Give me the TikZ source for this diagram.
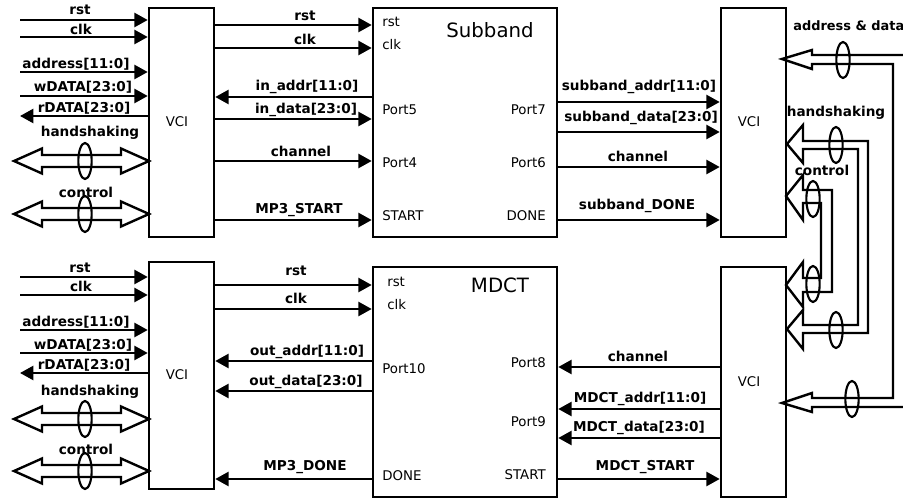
\documentclass[tikz,border=0pt]{standalone}
\usepackage{fontspec}
\setmainfont{DejaVu Sans}
\usepackage{tikz}
\usetikzlibrary{arrows.meta, shapes.geometric}

\begin{document}
\begin{tikzpicture}[
  x=0.75pt, y=-0.75pt,
  box/.style={draw, line width=1.9pt, minimum width=48.75pt, inner sep=0pt},
  arrow/.style={-{Triangle[length=10pt, width=10.5pt]}, line width=1.8pt},
  bus/.style={draw, line width=1.8pt, line join=miter},
  busmark/.style={draw, ellipse, line width=1.6pt, minimum width=10pt, minimum height=27pt, inner sep=0pt},
  lbl/.style={font=\fontsize{10.2}{12}\selectfont\bfseries, inner sep=0pt},
  port/.style={font=\fontsize{10}{12}\selectfont, inner sep=0pt},
  title/.style={font=\fontsize{14.8}{17}\selectfont, inner sep=0pt}
]
  \useasboundingbox (0,0) rectangle (903,499);

  % blocks
  \node[box, minimum height=171.75pt] (vcia) at (181.5,122.5) {};
  \node[box, minimum height=170.25pt] (vcib) at (181.5,375.5) {};
  \node[box, minimum height=171.75pt] (vcic) at (753.5,122.5) {};
  \node[box, minimum height=172.5pt] (vcid) at (753.5,382) {};
  \node[box, minimum width=138pt, minimum height=171.75pt] (subband) at (465,122.5) {};
  \node[box, minimum width=138pt, minimum height=172.5pt] (mdct) at (465,382) {};

  \node[port] (vcialbl) at (177,122) {VCI};
  \node[port] (vciblbl) at (177,375) {VCI};
  \node[port] (vciclbl) at (749,122) {VCI};
  \node[port] (vcidlbl) at (749,382) {VCI};
  \node[title] (sublbl) at (490,30) {Subband};
  \node[title] (mdctlbl) at (500,285) {MDCT};

  % free ends on the left
  \coordinate (ina) at (20,20);
  \coordinate (inb) at (20,37);
  \coordinate (inc) at (20,72);
  \coordinate (ind) at (20,96);
  \coordinate (ine) at (20,116);
  \coordinate (inf) at (20,277);
  \coordinate (ing) at (20,295);
  \coordinate (inh) at (20,330);
  \coordinate (ini) at (20,353);
  \coordinate (inj) at (20,373);

  \draw[arrow] (ina) -- (ina -| vcia.west);
  \draw[arrow] (inb) -- (inb -| vcia.west);
  \draw[arrow] (inc) -- (inc -| vcia.west);
  \draw[arrow] (ind) -- (ind -| vcia.west);
  \draw[arrow] (ine -| vcia.west) -- (ine);
  \draw[arrow] (inf) -- (inf -| vcib.west);
  \draw[arrow] (ing) -- (ing -| vcib.west);
  \draw[arrow] (inh) -- (inh -| vcib.west);
  \draw[arrow] (ini) -- (ini -| vcib.west);
  \draw[arrow] (inj -| vcib.west) -- (inj);

  \node[lbl] (rsta) at (80,10) {rst};
  \node[lbl] (clka) at (81,29) {clk};
  \node[lbl] (addra) at (76,64) {address[11:0]};
  \node[lbl] (wdataa) at (83,87) {wDATA[23:0]};
  \node[lbl] (rdataa) at (84,108) {rDATA[23:0]};
  \node[lbl] (handa) at (90,133) {handshaking};
  \node[lbl] (ctrla) at (86,192) {control};
  \node[lbl] (rstb) at (80,268) {rst};
  \node[lbl] (clkb) at (81,286) {clk};
  \node[lbl] (addrb) at (76,322) {address[11:0]};
  \node[lbl] (wdatab) at (83,345) {wDATA[23:0]};
  \node[lbl] (rdatab) at (84,365) {rDATA[23:0]};
  \node[lbl] (handb) at (90,392) {handshaking};
  \node[lbl] (ctrlb) at (86,449) {control};

  % double buses on the left
  \foreach \y/\n in {161/a,214/b,419/c,471/d}{
    \draw[bus] (42,\y-6) -- (42,\y-12.5) -- (14,\y) -- (42,\y+12.5) -- (42,\y+6) -- (121,\y+6)
      -- (121,\y+12.5) -- (149,\y) -- (121,\y-12.5) -- (121,\y-6) -- cycle;
    \node[busmark] (mark\n) at (85,\y) {};
  }

  % between VCI and Subband
  \draw[arrow] (vcia.east |- 0,25) -- (subband.west |- 0,25);
  \draw[arrow] (vcia.east |- 0,48) -- (subband.west |- 0,48);
  \draw[arrow] (subband.west |- 0,97) -- (vcia.east |- 0,97);
  \draw[arrow] (vcia.east |- 0,119) -- (subband.west |- 0,119);
  \draw[arrow] (vcia.east |- 0,161) -- (subband.west |- 0,161);
  \draw[arrow] (vcia.east |- 0,220) -- (subband.west |- 0,220);

  \node[lbl] (rstc) at (305,16) {rst};
  \node[lbl] (clkc) at (305,39) {clk};
  \node[lbl] (inaddr) at (307,87) {in\_addr[11:0]};
  \node[lbl] (indata) at (306,110) {in\_data[23:0]};
  \node[lbl] (chana) at (301,151) {channel};
  \node[lbl] (mpstart) at (299,210) {MP3\_START};

  \node[port, anchor=west] (prsta) at (382,22) {rst};
  \node[port, anchor=west] (pclka) at (382,45) {clk};
  \node[port, anchor=west] (portfive) at (382,110) {Port5};
  \node[port, anchor=west] (portfour) at (382,163) {Port4};
  \node[port, anchor=west] (pstarta) at (382,216) {START};
  \node[port, anchor=east] (portseven) at (546,110) {Port7};
  \node[port, anchor=east] (portsix) at (546,163) {Port6};
  \node[port, anchor=east] (pdonea) at (546,216) {DONE};

  % between Subband and VCI
  \draw[arrow] (subband.east |- 0,102) -- (vcic.west |- 0,102);
  \draw[arrow] (subband.east |- 0,132) -- (vcic.west |- 0,132);
  \draw[arrow] (subband.east |- 0,167) -- (vcic.west |- 0,167);
  \draw[arrow] (subband.east |- 0,220) -- (vcic.west |- 0,220);

  \node[lbl] (subaddr) at (639,87) {subband\_addr[11:0]};
  \node[lbl] (subdata) at (641,118) {subband\_data[23:0]};
  \node[lbl] (chanb) at (638,156) {channel};
  \node[lbl] (subdone) at (637,206) {subband\_DONE};

  % between VCI and MDCT
  \draw[arrow] (vcib.east |- 0,285) -- (mdct.west |- 0,285);
  \draw[arrow] (vcib.east |- 0,309) -- (mdct.west |- 0,309);
  \draw[arrow] (mdct.west |- 0,361) -- (vcib.east |- 0,361);
  \draw[arrow] (mdct.west |- 0,391) -- (vcib.east |- 0,391);
  \draw[arrow] (mdct.west |- 0,479) -- (vcib.east |- 0,479);

  \node[lbl] (rstd) at (296,271) {rst};
  \node[lbl] (clkd) at (296,298) {clk};
  \node[lbl] (outaddr) at (307,352) {out\_addr[11:0]};
  \node[lbl] (outdata) at (306,382) {out\_data[23:0]};
  \node[lbl] (mpdone) at (305,467) {MP3\_DONE};

  \node[port, anchor=west] (prstb) at (387,282) {rst};
  \node[port, anchor=west] (pclkb) at (387,305) {clk};
  \node[port, anchor=west] (portten) at (382,369) {Port10};
  \node[port, anchor=west] (pdoneb) at (382,476) {DONE};
  \node[port, anchor=east] (porteight) at (546,363) {Port8};
  \node[port, anchor=east] (portnine) at (546,422) {Port9};
  \node[port, anchor=east] (pstartb) at (546,475) {START};

  % between MDCT and VCI
  \draw[arrow] (vcid.west |- 0,367) -- (mdct.east |- 0,367);
  \draw[arrow] (vcid.west |- 0,409) -- (mdct.east |- 0,409);
  \draw[arrow] (vcid.west |- 0,438) -- (mdct.east |- 0,438);
  \draw[arrow] (mdct.east |- 0,479) -- (vcid.west |- 0,479);

  \node[lbl] (chanc) at (638,356) {channel};
  \node[lbl] (mdaddr) at (640,399) {MDCT\_addr[11:0]};
  \node[lbl] (mddata) at (639,428) {MDCT\_data[23:0]};
  \node[lbl] (mdstart) at (645,467) {MDCT\_START};

  % buses on the right
  \coordinate (adtop) at (782,59);
  \coordinate (adbot) at (782,403);
  \coordinate (adendt) at (903,55);
  \coordinate (adendb) at (903,407);
  \draw[bus] (adendt) -- (812,55) -- (812,50) -- (adtop) -- (812,69) -- (812,64) -- (893,64)
    -- (893,398) -- (812,398) -- (812,393) -- (adbot) -- (812,412) -- (812,407) -- (adendb);
  \draw[bus] (787,144) -- (803,125) -- (803,141) -- (868,141) -- (868,333) -- (803,333)
    -- (803,349) -- (787,329) -- (803,310) -- (803,325) -- (858,325) -- (858,149)
    -- (803,149) -- (803,163) -- cycle;
  \draw[bus] (786,196) -- (803,175) -- (803,190) -- (832,190) -- (832,292) -- (803,292)
    -- (803,307) -- (786,285) -- (803,262) -- (803,278) -- (821,278) -- (821,203)
    -- (803,203) -- (803,220) -- cycle;

  \node[busmark] (marke) at (843,60) {};
  \node[busmark] (markf) at (852,399) {};
  \node[busmark] (markg) at (836,145) {};
  \node[busmark] (markh) at (836,330) {};
  \node[busmark] (marki) at (813,199) {};
  \node[busmark] (markj) at (813,284) {};

  \node[lbl, anchor=west, font=\fontsize{9.7}{12}\selectfont\bfseries] (addrdata) at (793,26) {address \& data};
  \node[lbl] (handc) at (836,113) {handshaking};
  \node[lbl] (ctrlc) at (822,170) {control};
\end{tikzpicture}
\end{document}
